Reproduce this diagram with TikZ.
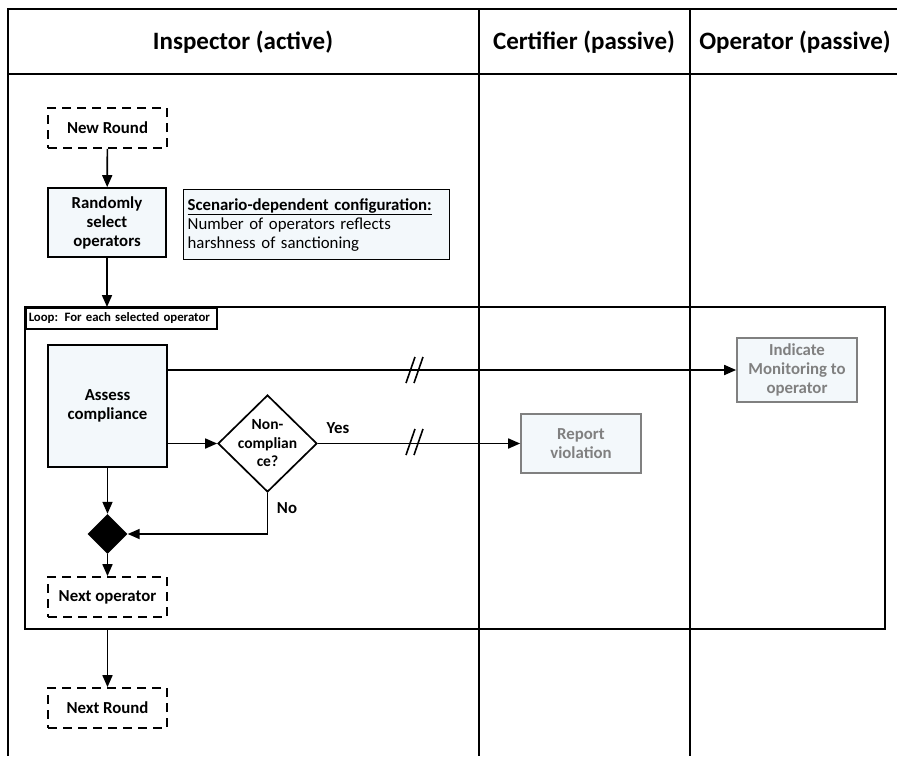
\documentclass[tikz,border=0pt]{standalone}
\usepackage{fontspec}
\setmainfont{Carlito}
\usetikzlibrary{arrows.meta,shapes.geometric}
\definecolor{boxfill}{HTML}{F3F8FB}
\definecolor{greytext}{HTML}{808080}
\begin{document}
\begin{tikzpicture}[x=1pt,y=-1pt,
  frame/.style={line width=1.9pt,black},
  flow/.style={line width=1.7pt,-{Triangle[length=12pt,width=10pt]}},
  hdr/.style={font=\fontsize{25}{28}\selectfont\bfseries},
  solidbox/.style={draw,line width=1.7pt,fill=boxfill,align=center,font=\fontsize{16.8}{19}\selectfont\bfseries,inner sep=2pt},
  dashbox/.style={draw,line width=1.7pt,dash pattern=on 9pt off 6pt,fill=white,align=center,font=\fontsize{16.8}{19}\selectfont\bfseries,minimum width=119pt,minimum height=40pt},
  greybox/.style={draw=greytext,line width=1.7pt,fill=boxfill,text=greytext,align=center,font=\fontsize{16.8}{19}\selectfont\bfseries,minimum width=120pt},
  lbl/.style={font=\fontsize{16.8}{19}\selectfont\bfseries}
]
\useasboundingbox (0,0) rectangle (897,756);
% swimlane frame
\draw[frame] (897,9) -- (8,9) -- (8,756);
\draw[frame] (8,74) -- (897,74);
\draw[frame] (479,9) -- (479,756);
\draw[frame] (690,9) -- (690,756);
\node[hdr] (h1) at (243,42) {Inspector (active)};
\node[hdr] (h2) at (584,42) {Certifier (passive)};
\node[hdr] (h3) at (795,42) {Operator (passive)};
% loop frame
\draw[frame,fill=none] (25,307) rectangle (885,629);
\node[draw,line width=1.5pt,fill=white,anchor=north west,minimum width=191pt,minimum height=21pt,inner sep=3pt,font=\fontsize{12.8}{14}\selectfont\bfseries,text width=185pt,align=left] (loopl) at (25,307) {Loop: For each selected operator};
% nodes
\node[dashbox] (nr) at (107.5,128) {New Round};
\node[solidbox,minimum width=118pt,minimum height=69pt] (rs) at (107,222.5) {Randomly\\select\\operators};
\node[draw,line width=1.3pt,fill=boxfill,anchor=north west,minimum width=266pt,minimum height=70pt,text width=258pt,align=left,inner sep=4pt,font=\fontsize{16.8}{19}\selectfont] (sc) at (183,189) {\textbf{\underline{Scenario-dependent configuration:}}\\Number of operators reflects\\harshness of sanctioning};
\node[solidbox,minimum width=119pt,minimum height=122pt] (ac) at (107.5,406) {Assess\\compliance};
\node[draw,diamond,line width=1.7pt,fill=white,minimum width=99pt,minimum height=97pt,inner sep=-6pt,align=center,font=\fontsize{15.5}{18.5}\selectfont\bfseries] (nc) at (267.5,443.5) {Non-\\complian\\ce?};
\node[diamond,fill=black,minimum width=40pt,minimum height=40pt,inner sep=0pt] (merge) at (107.5,534) {};
\node[dashbox] (no) at (107.5,597) {Next operator};
\node[dashbox] (nx) at (107.5,708) {Next Round};
\node[greybox,minimum height=64pt] (ind) at (797,370) {Indicate\\Monitoring to\\operator};
\node[greybox,minimum height=59pt] (rv) at (581,443.5) {Report\\violation};
% connectors
\draw[flow] (nr) -- (rs);
\coordinate (looptop) at (107,307);
\draw[flow] (rs) -- (looptop);
\draw[flow] (ac.east |- ind.west) -- (ind.west);
\draw[flow] (ac.east |- nc.west) -- (nc.west);
\draw[flow] (nc.east) -- (rv.west);
\draw[flow] (ac.south) -- (merge.north);
\draw[flow] (nc.south) |- (merge.east);
\draw[flow] (merge.south) -- (no.north);
\coordinate (loopbot) at (107.5,629);
\draw[flow] (loopbot) -- (nx.north);
% labels
\node[lbl] (yes) at (338,428) {Yes};
\node[lbl] (nolbl) at (287,508) {No};
% break marks
\foreach \yy in {370,442}{
  \draw[line width=1.6pt] (406,\yy+13) -- (415,\yy-13);
  \draw[line width=1.6pt] (414,\yy+13) -- (423,\yy-13);
}
\end{tikzpicture}
\end{document}
